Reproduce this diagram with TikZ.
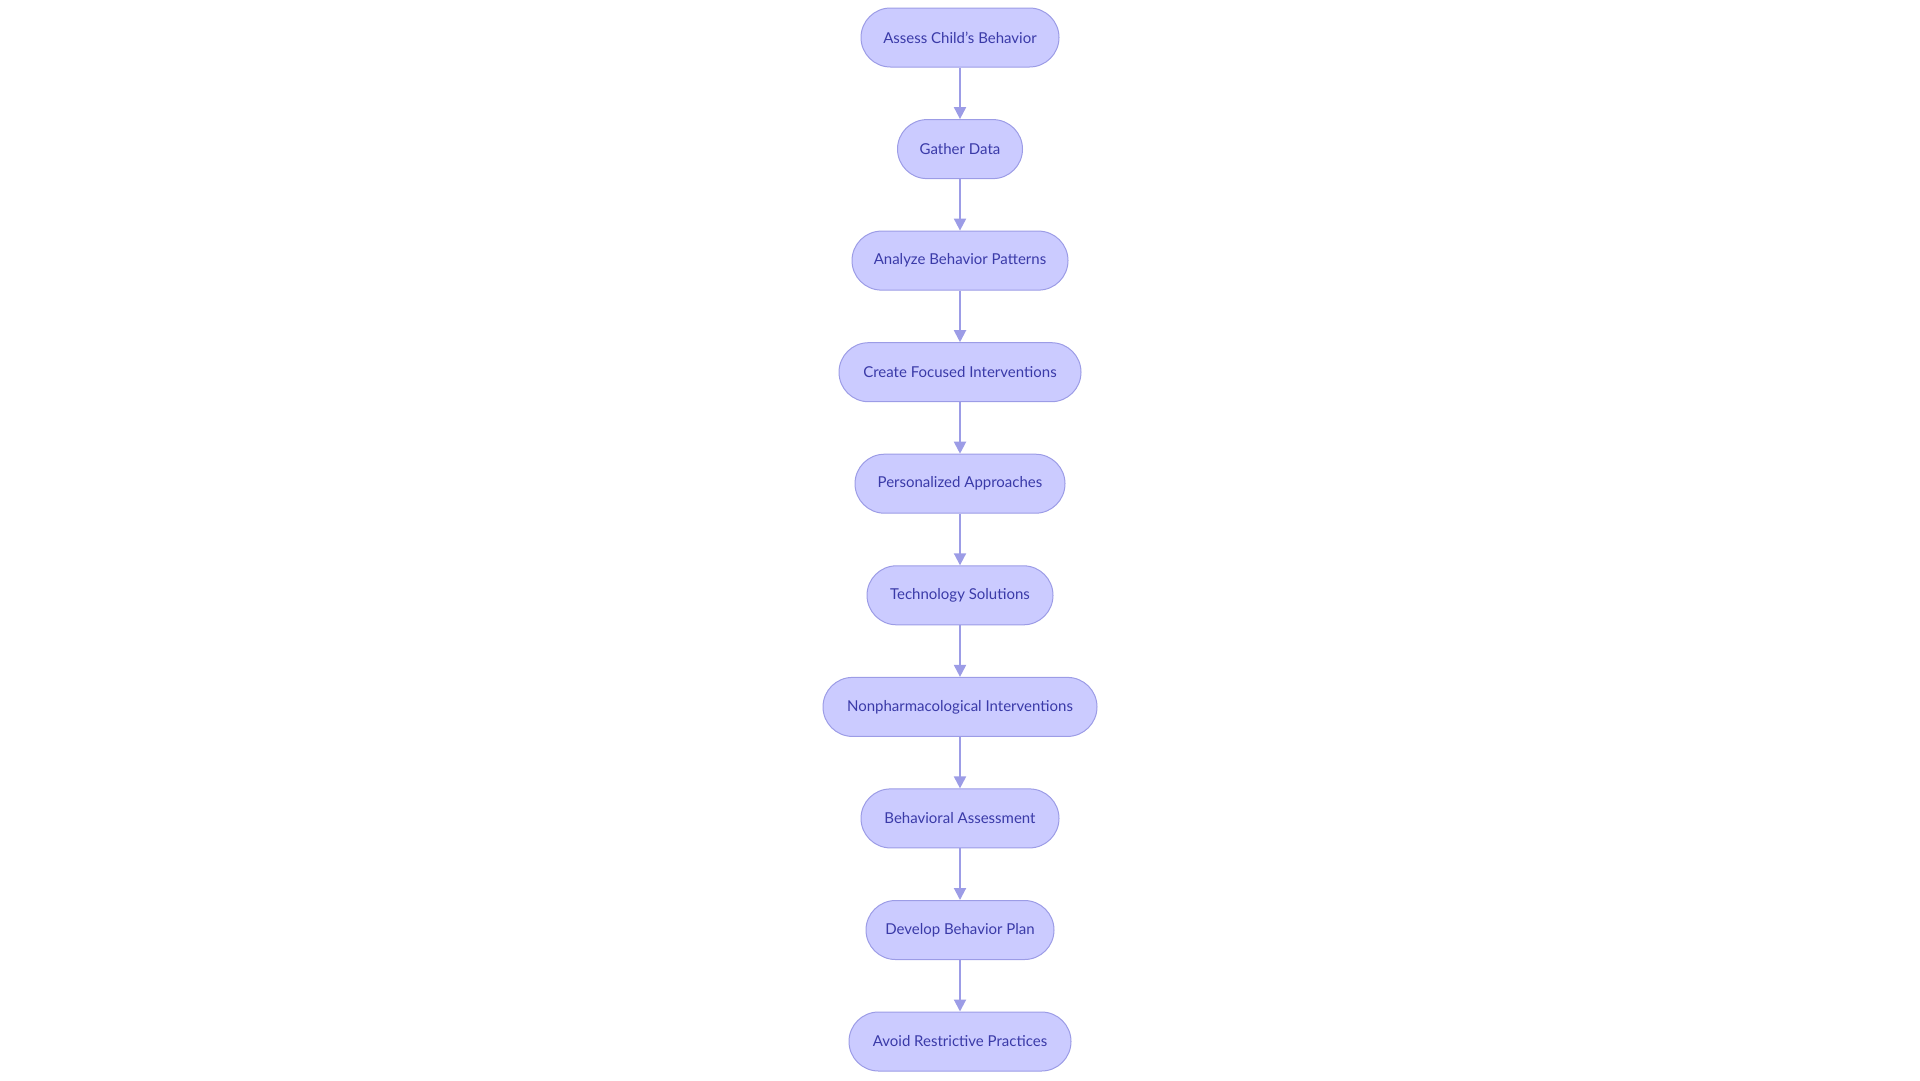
\documentclass[tikz,border=0pt]{standalone}
\usepackage{fontspec}
\setmainfont{Lato}
\usetikzlibrary{arrows.meta}
\definecolor{nodefill}{HTML}{CBCBFF}
\definecolor{nodeborder}{HTML}{9C9CE6}
\definecolor{nodetext}{HTML}{3A3AA8}
\definecolor{edgecol}{HTML}{9C9CE6}
\tikzset{
  stage/.style={draw=nodeborder, line width=1pt, fill=nodefill, text=nodetext,
    rounded corners=29.5pt, minimum height=59pt, inner xsep=0pt,
    font=\fontsize{15pt}{18pt}\selectfont},
  flow/.style={draw=edgecol, line width=2pt, -{Triangle[length=12pt,width=12pt]}}
}
\begin{document}
\begin{tikzpicture}[x=1pt,y=-1pt]
\useasboundingbox (0,0) rectangle (1920,1080);
\node[stage, minimum width=198pt] (n1) at (960,37.5) {Assess Child’s Behavior};
\node[stage, minimum width=125pt] (n2) at (960,149.1) {Gather Data};
\node[stage, minimum width=216pt] (n3) at (960,260.6) {Analyze Behavior Patterns};
\node[stage, minimum width=242pt] (n4) at (960,372.2) {Create Focused Interventions};
\node[stage, minimum width=210pt] (n5) at (960,483.7) {Personalized Approaches};
\node[stage, minimum width=186pt] (n6) at (960,595.3) {Technology Solutions};
\node[stage, minimum width=274pt] (n7) at (960,706.9) {Nonpharmacological Interventions};
\node[stage, minimum width=198pt] (n8) at (960,818.4) {Behavioral Assessment};
\node[stage, minimum width=188pt] (n9) at (960,930.0) {Develop Behavior Plan};
\node[stage, minimum width=222pt] (n10) at (960,1041.5) {Avoid Restrictive Practices};
\foreach \a/\b in {n1/n2,n2/n3,n3/n4,n4/n5,n5/n6,n6/n7,n7/n8,n8/n9,n9/n10}
  \draw[flow] (\a) -- (\b);
\end{tikzpicture}
\end{document}
